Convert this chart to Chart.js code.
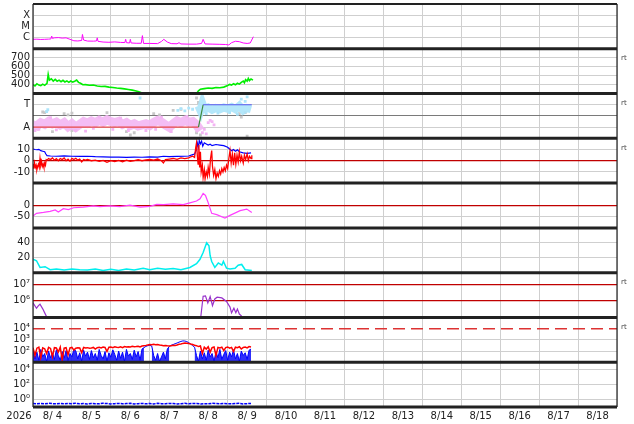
<!DOCTYPE html>
<html>
<head>
<meta charset="utf-8">
<script src="https://cdn.jsdelivr.net/npm/chart.js@4.4.1/dist/chart.umd.min.js"></script>
<style>
html, body { margin: 0; padding: 0; background: #fff; }
canvas { display: block; }
</style>
</head>
<body>
<canvas id="chart" width="634" height="424"></canvas>
<script>
// x axis: days since 8/4 00:00
const dayLabels = ["8/ 4", "8/ 5", "8/ 6", "8/ 7", "8/ 8", "8/ 9", "8/10", "8/11", "8/12", "8/13", "8/14", "8/15", "8/16", "8/17", "8/18"];
const yearLabel = "2026";

// panel 1: X-ray flux
const xrayT = [0,0.1,0.2,0.3,0.4,0.46,0.48,0.5,0.55,0.65,0.75,0.85,0.95,1.05,1.15,1.25,1.27,1.3,1.4,1.55,1.63,1.65,1.67,1.8,1.95,2.1,2.25,2.36,2.38,2.4,2.48,2.5,2.52,2.65,2.78,2.81,2.84,3.0,3.2,3.3,3.36,3.45,3.55,3.7,3.75,3.8,4.0,4.2,4.33,4.37,4.42,4.6,4.8,4.95,5.03,5.1,5.2,5.3,5.4,5.5,5.58,5.66];
const xrayV = [7.0e-7,7.2e-7,6.8e-7,7.0e-7,7.3e-7,7.6e-7,1.35e-6,8.5e-7,9.5e-7,1.0e-6,9.0e-7,9.5e-7,7.0e-7,5.2e-7,5.0e-7,5.5e-7,1.9e-6,6.0e-7,4.9e-7,4.8e-7,5.0e-7,9.5e-7,4.6e-7,4.0e-7,3.8e-7,4.1e-7,3.7e-7,3.6e-7,7.0e-7,3.5e-7,3.3e-7,7.0e-7,3.3e-7,3.1e-7,3.1e-7,1.5e-6,3.0e-7,3.0e-7,2.9e-7,4.5e-7,7.0e-7,4.0e-7,2.9e-7,2.8e-7,3.5e-7,2.7e-7,2.6e-7,2.6e-7,3.0e-7,7.0e-7,2.7e-7,2.6e-7,2.5e-7,2.4e-7,2.2e-7,3.5e-7,4.7e-7,4.3e-7,3.3e-7,3.0e-7,3.3e-7,1.2e-6];
const xrayTicks = [1e-6, 1e-5, 1e-4];
const xrayTickLabels = ["C", "M", "X"];

// panel 2: solar wind speed
const speedT = [0,0.05,0.1,0.15,0.2,0.25,0.3,0.36,0.39,0.42,0.47,0.52,0.57,0.62,0.67,0.72,0.77,0.82,0.87,0.92,0.97,1.02,1.07,1.12,1.17,1.22,1.28,1.35,1.45,1.55,1.65,1.75,1.85,1.95,2.05,2.15,2.25,2.35,2.45,2.55,2.65,2.72,2.8,3.5,4.2,4.25,4.3,4.4,4.5,4.6,4.7,4.8,4.9,5.0,5.05,5.1,5.15,5.2,5.25,5.3,5.35,5.4,5.43,5.46,5.5,5.53,5.56,5.6,5.65];
const speedV = [400,385,410,395,388,405,392,415,515,450,465,440,458,438,450,432,448,430,442,425,440,428,438,450,425,415,398,400,392,395,385,378,380,372,368,362,358,352,345,338,328,320,305,null,302,330,348,355,362,358,368,365,372,390,402,395,410,398,415,405,425,440,420,455,438,470,445,462,450];
const speedTicks = [400, 500, 600, 700];

// panel 3: IMF sector (T / A) and phi scatter
const sectorT = [0, 4.25, 4.37, 5.62];
const sectorV = [-1, -1, 1, 1];
const sectorTicks = [-1, 0, 1];
const sectorTickLabels = ["A", "", "T"];
const pinkStep = 0.1;
const pinkV = [-0.8,-0.9,-0.6,-0.75,-0.5,-0.7,-0.55,-0.8,-0.6,-0.95,-0.7,-1.0,-0.75,-0.5,-0.65,-0.45,-0.6,-0.4,-0.55,-0.35,-0.5,-0.6,-0.5,-0.75,-0.6,-0.85,-0.7,-0.9,-0.8,-0.7,-0.85,-0.6,-0.4,-0.55,-0.8,-1.0,-0.7,-0.45,-0.6,-0.4,-0.55,-0.5,-0.8,-1.3];
const pinkDotT = [4.35,4.4,4.45,4.5,4.55,4.6,4.65,2.45,0.15,1.1,0.05,0.6,1.35,1.7,2.05,2.9,3.3,3.55,3.95,0.45,1.55,2.25,3.15];
const pinkDotV = [-1.5,-1.2,-1.6,-0.6,-0.4,-0.5,-0.8,-1.3,-1.2,-1.3,-1.3,-1.25,-1.35,-0.1,-1.2,-1.3,-0.1,-1.4,-0.05,-0.15,-1.1,-0.2,-1.2];
const skyT = [4.25,4.3,4.35,4.4,4.5,4.6,4.7,4.8,4.9,5.0,5.1,5.2,5.3,5.4,5.5,5.6];
const skyV = [0.9,0.5,1.1,0.6,0.75,0.55,0.7,0.6,0.75,0.65,0.8,0.6,0.9,0.5,0.7,0.6];
const skyDotT = [0.35,0.38,2.75,3.72,3.8,3.9,4.0,4.1,5.35,5.45,5.5,4.45,4.75,5.05,5.25];
const skyDotV = [0.4,0.55,1.6,0.5,0.65,0.45,0.7,0.6,1.5,1.3,1.7,0.2,0.25,0.3,0.15];
const grayT = [0.25,0.3,0.8,0.9,1.0,1.9,2.4,2.5,2.6,3.1,3.25,3.6,3.8,4.2,4.25,4.2,4.3,5.3,5.35,5.45,5.5,0.5,1.0];
const grayV = [0.35,0.3,0.2,0.1,0.25,0.3,-1.4,-1.7,-1.5,0.2,0.1,0.5,0.6,1.6,1.2,-1.5,-1.7,0.2,-0.1,0.3,-1.8,-1.4,-1.3];

// panel 4: IMF Bt (blue) and Bz (red)
const btT = [0,0.05,0.1,0.15,0.2,0.25,0.3,0.33,0.36,0.45,0.6,0.8,1.0,1.2,1.4,1.6,1.8,2.0,2.2,2.4,2.6,2.8,3.0,3.2,3.35,3.5,3.7,3.9,4.0,4.1,4.15,4.2,4.22,4.25,4.27,4.3,4.33,4.36,4.4,4.45,4.5,4.55,4.6,4.7,4.8,4.9,5.0,5.05,5.1,5.15,5.2,5.25,5.3,5.4,5.5,5.6];
const btV = [10.5,10,9.8,10.2,9,8.5,8,6,4.5,4.2,4,4.3,4,3.8,4,3.6,3.4,3.2,3.3,3,3.2,3.1,3.4,3.3,4,3.6,3.8,4,4.2,5.5,6,10,16,12,18,15,17.5,13,16,15,14,14.8,13.5,14.5,14,13.5,12,10.5,9,10,8.5,9.8,8,7,6.5,7];
const bzT = [0,0.02,0.04,0.06,0.08,0.1,0.12,0.14,0.16,0.18,0.2,0.22,0.24,0.26,0.28,0.3,0.32,0.34,0.36,0.4,0.45,0.5,0.55,0.6,0.65,0.7,0.75,0.8,0.85,0.9,0.95,1.0,1.05,1.1,1.15,1.2,1.25,1.3,1.35,1.4,1.5,1.6,1.7,1.8,1.9,2.0,2.1,2.2,2.3,2.4,2.5,2.6,2.7,2.8,2.9,3.0,3.1,3.2,3.3,3.35,3.4,3.5,3.6,3.7,3.8,3.9,4.0,4.05,4.1,
  4.15,4.18,4.2,4.22,4.24,4.26,4.28,4.3,4.32,4.35,4.37,4.4,4.42,4.45,4.48,4.5,4.53,4.56,4.59,4.61,4.64,4.67,4.7,4.73,4.76,4.79,4.82,4.85,4.88,4.91,4.94,4.97,5.0,5.03,5.06,5.09,5.12,5.15,5.18,5.21,5.24,5.27,5.3,5.33,5.36,5.4,5.43,5.46,5.5,5.53,5.56,5.6,5.62];
const bzV = [-3,-7,-2,-6,-4,-8,-5,-3,-6,2,-4,-1,-5,-3,-6,-2,-4,1,0.5,2,1,2.5,0.5,1.8,0,2,1,2.5,0,1.5,-0.5,2,1,2.2,0.5,1.5,-1,1,0.5,1.2,0,0.5,-0.5,0.3,-1.5,0,-0.8,0.2,-1,0.5,-0.5,0,1,0,0.8,1.2,0.5,1.5,0,-2,1,1.5,2,1.2,2.5,1.8,2.5,3.5,4,
  3,12,16,5,-3,14,-6,8,-10,-4,-15,-8,-16,-10,-14,-6,-12,2,9,-5,-13,-8,-16,-11,-14,-9,-12,-7,-10,-6,-9,-4,-7,2,9,-2,6,-4,7,-3,5,-1,8,0,4,-2,5,1,6,0,4,2,5];
const imfTicks = [-10, 0, 10];

// panel 5: Dst
const dstT = [0,0.09,0.27,0.44,0.57,0.65,0.78,0.91,1.04,1.29,1.55,1.72,1.98,2.23,2.49,2.75,3.0,3.18,3.35,3.6,3.86,4.03,4.2,4.29,4.37,4.43,4.5,4.59,4.72,4.93,5.06,5.32,5.49,5.62];
const dstV = [-47,-35,-31,-26,-20,-29,-14,-18,-10,-7,-2,-5,-2,-5,2,-7,-4,5,4,7,4,12,20,30,54,45,12,-35,-41,-56,-44,-23,-16,-31];
const dstTicks = [-50, 0];

// panel 6: cyan index
const cyanT = [0,0.09,0.18,0.31,0.44,0.6,0.8,1.0,1.2,1.4,1.6,1.8,2.0,2.2,2.4,2.6,2.83,3.0,3.2,3.4,3.6,3.8,4.03,4.2,4.29,4.37,4.46,4.52,4.55,4.59,4.67,4.76,4.85,4.89,4.97,5.06,5.19,5.27,5.36,5.45,5.62];
const cyanV = [18,16,7,8,4,5,3.5,5,4,3.5,5,3,4.5,3,5,3.5,6,4,6,4.5,5.5,4,7,12,18,27,40,36,22.7,15,7,13,10,15,6,5,6,10,11,4,3];
const cyanTicks = [20, 40];

// panel 7: electrons
const elecT = [0,0.09,0.14,0.18,0.25,0.31,0.35,2.0,4.31,4.37,4.43,4.49,4.55,4.61,4.67,4.73,4.85,4.97,5.06,5.1,5.16,5.21,5.25,5.3,5.36];
const elecV = [7.6e5,3.6e5,5.2e5,6.3e5,3.3e5,1.7e5,1.1e5,null,1.1e5,1.9e6,2.0e6,7.6e5,1.85e6,5.2e5,1.3e6,1.65e6,1.5e6,9.1e5,4.2e5,1.9e5,3.6e5,1.9e5,3.2e5,1.6e5,1.2e5];
const elecTicks = [1e6, 1e7];
const elecTickLabels = ["10\u2076", "10\u2077"];

// panel 8: protons (step 0.05 day)
const protonStep = 0.05;
const protonRed = [200,40,180,220,25,190,160,60,210,170, 30,200,190,80,220,15,180,200,45,190,
  210,120,180,200,190,70,210,185,200,175, 190,210,150,200,220,190,230,210,90,220,
  230,200,240,220,210,235,200,250,225,240, 230,260,240,250,270,230,280,300,320,350,
  380,360,400,370,390,350,330,300,310,290, 280,300,320,310,350,400,420,480,520,500,
  470,420,380,330,300,250,280,60,220,150, 240,80,200,230,40,210,190,220,110,200,
  230,180,210,90,220,200,240,150,210,230, 190,250,230];
const protonBlue = [120,20,80,15,140,30,60,12,100,25, 70,18,130,40,15,90,22,110,14,60,
  30,150,100,20,70,13,120,35,80,18, 110,25,60,15,140,40,20,90,12,70,
  28,130,50,15,100,22,80,12,140,35, 60,18,120,30,90,15,150,200,260,300,
  320,280,40,15,60,12,30,80,20,150, 250,330,380,450,520,620,720,800,780,700,
  560,420,300,220,40,12,100,20,70,15, 120,30,60,12,90,25,140,18,50,110,
  15,80,30,130,20,60,12,100,40,70, 18,120,150];
const protonAlert = 1e4;
const protonTicks = [1e2, 1e3, 1e4];
const protonTickLabels = ["10\u00b2", "10\u00b3", "10\u2074"];

// panel 9: low flux (step 0.1 day)
const lowStep = 0.1;
const lowBlue = [0.30,0.27,0.29,0.26,0.31,0.28,0.27,0.30,0.26,0.29,
  0.28,0.31,0.27,0.29,0.26,0.30,0.28,0.27,0.31,0.29,
  0.26,0.28,0.30,0.27,0.29,0.31,0.26,0.28,0.30,0.27,
  0.29,0.26,0.31,0.28,0.27,0.30,0.29,0.26,0.28,0.31,
  0.27,0.29,0.30,0.26,0.28,0.27,0.31,0.29,0.26,0.30,
  0.28,0.27,0.29,0.31,0.26,0.28,0.30];
const lowTicks = [1, 1e2, 1e4];
const lowTickLabels = ["10\u2070", "10\u00b2", "10\u2074"];

const gridGray = "#cfcfcf";
const textColor = "#222";
const clear = "rgba(0,0,0,0)";

Chart.defaults.font.family = "'DejaVu Sans', sans-serif";
Chart.defaults.font.size = 10;
Chart.defaults.color = textColor;

function series(ts, vs) {
    return ts.map((t, i) => ({ x: t, y: vs[i] }));
}

function stepped(step, vs) {
    return vs.map((v, i) => ({ x: i * step, y: v }));
}

function line(yAxisID, data, color, width, extra) {
    return Object.assign({
        xAxisID: "x", yAxisID: yAxisID, data: data,
        borderColor: color, borderWidth: width,
        pointRadius: 0, fill: false, tension: 0, order: 0
    }, extra || {});
}

function dots(yAxisID, data, color) {
    return line(yAxisID, data, color, 0, {
        showLine: false, pointRadius: 2, pointStyle: "rect",
        pointBackgroundColor: color, pointBorderWidth: 0, order: 3
    });
}

function panelAxis(o) {
    return {
        type: o.type || "linear",
        position: "left",
        stack: "panels",
        stackWeight: 1,
        min: o.min,
        max: o.max,
        afterBuildTicks: s => { s.ticks = o.ticks.map(v => ({ value: v })); },
        afterFit: s => { s.width = 33; s.paddingTop = 0; s.paddingBottom = 0; },
        grid: { color: o.gridColor || gridGray, lineWidth: o.gridWidth || 1, drawTicks: false },
        border: { display: false },
        ticks: {
            autoSkip: false, padding: 3, color: textColor,
            callback: (v, i) => o.labels ? o.labels[i] : String(o.ticks[i])
        }
    };
}

const zeroRed = c => c.tick && c.tick.value === 0 ? "#c00000" : gridGray;
const zeroWidth = c => c.tick && c.tick.value === 0 ? 1.3 : 1;

// panels listed top to bottom
const panels = [
    { id: "y1", type: "logarithmic", min: 1e-7, max: 1e-3, ticks: xrayTicks, labels: xrayTickLabels },
    { id: "y2", min: 300, max: 800, ticks: speedTicks, rt: true },
    { id: "y3", min: -2, max: 2, ticks: sectorTicks, labels: sectorTickLabels, rt: true,
      gridColor: c => c.tick && c.tick.value === 0 ? "#7a7a7a" : gridGray },
    { id: "y4", min: -20, max: 20, ticks: imfTicks, rt: true, gridColor: zeroRed, gridWidth: zeroWidth },
    { id: "y5", min: -100, max: 100, ticks: dstTicks, gridColor: zeroRed, gridWidth: zeroWidth },
    { id: "y6", min: 0, max: 60, ticks: cyanTicks },
    { id: "y7", type: "logarithmic", min: 1e5, max: 5e7, ticks: elecTicks, labels: elecTickLabels, rt: true,
      gridColor: "#c00000", gridWidth: 1.3 },
    { id: "y8", type: "logarithmic", min: 10, max: 1e5, ticks: protonTicks, labels: protonTickLabels, rt: true,
      gridColor: c => c.tick && c.tick.value === protonAlert ? clear : gridGray },
    { id: "y9", type: "logarithmic", min: 0.1, max: 1e5, ticks: lowTicks, labels: lowTickLabels }
];

const halfDays = dayLabels.flatMap((_, k) => [k, k + 0.5]).concat([dayLabels.length]);

const scales = {
    x: {
        type: "linear", position: "bottom", min: 0, max: dayLabels.length,
        afterBuildTicks: s => { s.ticks = halfDays.map(v => ({ value: v })); },
        afterFit: s => { s.height = 17; s.paddingLeft = 0; s.paddingRight = 0; },
        grid: { color: c => c.tick && c.tick.value % 1 === 0 ? gridGray : clear, drawTicks: false },
        border: { display: false },
        ticks: {
            autoSkip: false, maxRotation: 0, padding: 3, color: textColor,
            callback: v => (v % 1 ? dayLabels[Math.floor(v)] : "")
        }
    }
};
// stacked left axes: the last one added ends up on top
panels.slice().reverse().forEach(p => { scales[p.id] = panelAxis(p); });

const panelFrame = {
    id: "panelFrame",
    afterDatasetsDraw(chart) {
        const { ctx, chartArea: a } = chart;
        ctx.save();
        ctx.strokeStyle = "#222";
        const hline = (y, w) => {
            ctx.lineWidth = w;
            ctx.beginPath(); ctx.moveTo(a.left, y); ctx.lineTo(a.right, y); ctx.stroke();
        };
        panels.forEach((p, i) => hline(chart.scales[p.id].top, i === 0 ? 2 : 3));
        hline(a.bottom, 3);
        ctx.lineWidth = 1.2;
        ctx.beginPath();
        ctx.moveTo(a.left, a.top); ctx.lineTo(a.left, a.bottom);
        ctx.moveTo(a.right, a.top); ctx.lineTo(a.right, a.bottom);
        ctx.stroke();

        ctx.fillStyle = "#444";
        ctx.font = "7px 'DejaVu Sans', sans-serif";
        ctx.textBaseline = "middle";
        ctx.textAlign = "left";
        panels.filter(p => p.rt).forEach(p => ctx.fillText("rt", a.right + 4, chart.scales[p.id].top + 9.5));

        ctx.fillStyle = textColor;
        ctx.font = "10px 'DejaVu Sans', sans-serif";
        ctx.textAlign = "center";
        ctx.fillText(yearLabel, 19, a.bottom + 9);
        ctx.restore();
    }
};

const sectorColor = c => {
    const a = c.p0.parsed.y, b = c.p1.parsed.y;
    if (a < 0 && b < 0) return "#e84848";
    if (a > 0 && b > 0) return "#5a5af0";
    return "#3a8a3a";
};

// fill the noisy low proton counts down to the axis, but not the smooth hump
const blueFill = "rgba(10,10,250,0.85)";
const protonBlueFill = c => (c.p0.parsed.y > 180 && c.p1.parsed.y > 180 ? clear : blueFill);

new Chart(document.getElementById("chart"), {
    type: "line",
    data: {
        datasets: [
            line("y1", series(xrayT, xrayV), "#ff00ff", 1),
            line("y2", series(speedT, speedV), "#00ee00", 1.6),
            line("y3", series(sectorT, sectorV), "#e84848", 1.2, { segment: { borderColor: sectorColor } }),
            line("y3", stepped(pinkStep, pinkV), "rgba(243,182,243,0.9)", 9, { order: 2 }),
            line("y3", series(skyT, skyV), "rgba(172,228,250,0.9)", 8, { order: 2 }),
            dots("y3", series(pinkDotT, pinkDotV), "#f3b4f3"),
            dots("y3", series(skyDotT, skyDotV), "#ace4fa"),
            dots("y3", series(grayT, grayV), "#c8c8c8"),
            line("y4", series(bzT, bzV), "#ff0000", 1.3),
            line("y4", series(btT, btV), "#0000ff", 1.2),
            line("y5", series(dstT, dstV), "#ff40ff", 1.2),
            line("y6", series(cyanT, cyanV), "#00eeee", 1.5),
            line("y7", series(elecT, elecV), "#9933cc", 1.2),
            line("y8", stepped(protonStep, protonRed), "#ff0000", 1.5),
            line("y8", stepped(protonStep, protonBlue), "#0000ff", 1, {
                fill: "start", backgroundColor: blueFill, segment: { backgroundColor: protonBlueFill }
            }),
            line("y8", series([0, dayLabels.length], [protonAlert, protonAlert]), "#dd3333", 1.5, { borderDash: [12, 6], order: 1 }),
            line("y9", stepped(lowStep, lowBlue), "#0000ff", 1.5, { borderDash: [3, 1] })
        ]
    },
    options: {
        responsive: false,
        animation: false,
        events: [],
        layout: { padding: { top: 2, right: 17, left: 0, bottom: 0 } },
        plugins: { legend: { display: false }, tooltip: { enabled: false } },
        scales: scales
    },
    plugins: [panelFrame]
});
</script>
</body>
</html>
